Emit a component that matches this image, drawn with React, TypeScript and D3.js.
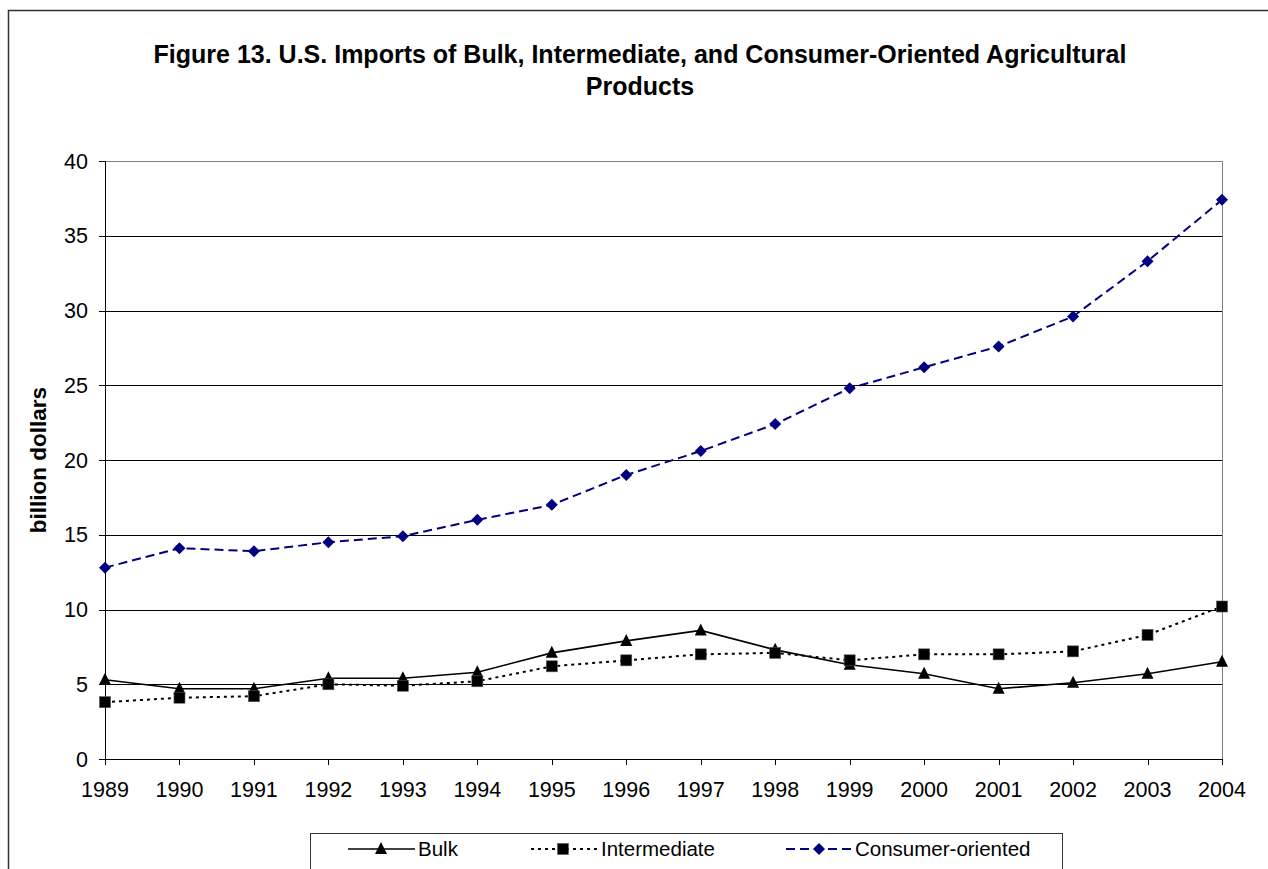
import React from "react";
import * as d3 from "d3";

const years = ["1989","1990","1991","1992","1993","1994","1995","1996","1997","1998","1999","2000","2001","2002","2003","2004"];
const bulk = [5.3,4.7,4.7,5.4,5.4,5.8,7.1,7.9,8.6,7.3,6.3,5.7,4.7,5.1,5.7,6.5];
const intermediate = [3.8,4.1,4.2,5.0,4.9,5.2,6.2,6.6,7.0,7.1,6.6,7.0,7.0,7.2,8.3,10.2];
const consumer = [12.8,14.1,13.9,14.5,14.9,16.0,17.0,19.0,20.6,22.4,24.8,26.2,27.6,29.6,33.3,37.4];
const yTicks = [0,5,10,15,20,25,30,35,40];
const seriesNames = ["Bulk","Intermediate","Consumer-oriented"];
const titleLines = ["Figure 13. U.S. Imports of Bulk, Intermediate, and Consumer-Oriented Agricultural","Products"];

const FONT = "Arial, 'Liberation Sans', Helvetica, sans-serif";
const W = 1268, H = 869;
const L = 105, R = 1222, T = 161, B = 759;

function Marker({ kind, x, y }: { kind: string; x: number; y: number }) {
  if (kind === "tri") {
    const s = 6;
    return <path d={`M${x},${y - s - 1}L${x + s},${y + s - 1}L${x - s},${y + s - 1}Z`} fill="#000" />;
  }
  if (kind === "sq") {
    return <rect x={x - 5.5} y={y - 5.5} width={11} height={11} fill="#000" stroke="#555" strokeWidth={0.6} />;
  }
  const s = 6;
  return <path d={`M${x},${y - s}L${x + s},${y}L${x},${y + s}L${x - s},${y}Z`} fill="#000080" />;
}

export default function App() {
  const x = d3.scalePoint<string>().domain(years).range([L, R]);
  const y = d3.scaleLinear().domain([0, 40]).range([B, T]);
  const line = d3.line<number>().x((_, i) => x(years[i]) as number).y((d) => y(d));

  const series = [
    { name: seriesNames[0], data: bulk, stroke: "#000", dash: undefined as string | undefined, width: 1.6, marker: "tri" },
    { name: seriesNames[1], data: intermediate, stroke: "#000", dash: "3,4", width: 2, marker: "sq" },
    { name: seriesNames[2], data: consumer, stroke: "#000080", dash: "9,5", width: 2, marker: "dia" },
  ];

  const legendItems = [
    { x0: 348, x1: 415, mx: 381, tx: 418 },
    { x0: 531, x1: 597, mx: 563, tx: 601 },
    { x0: 786, x1: 852, mx: 819, tx: 855 },
  ];
  const ly = 849;

  return (
    <svg width={W} height={H} style={{ position: "absolute", left: 0, top: 0, background: "#fff" }} fontFamily={FONT}>
      <rect x={0} y={0} width={W} height={H} fill="#fff" />
      <rect x={8.5} y={10.5} width={1300} height={900} fill="none" stroke="#333" strokeWidth={1.5} />
      {titleLines.map((t, i) => (
        <text key={i} x={640} y={63 + i * 32} textAnchor="middle" fontSize={25} fontWeight="bold" fill="#000">{t}</text>
      ))}

      {/* gridlines */}
      {yTicks.filter((t) => t > 0).map((t) => (
        <line key={t} x1={L} x2={R} y1={Math.round(y(t)) + 0.5} y2={Math.round(y(t)) + 0.5} stroke={t === 40 ? "#808080" : "#000"} strokeWidth={1} />
      ))}
      <line x1={R + 0.5} x2={R + 0.5} y1={T} y2={B} stroke="#808080" strokeWidth={1} />
      {/* axes */}
      <line x1={L + 0.5} x2={L + 0.5} y1={T} y2={B + 0.5} stroke="#000" strokeWidth={1} />
      <line x1={L} x2={R + 1} y1={B + 0.5} y2={B + 0.5} stroke="#000" strokeWidth={1} />
      {yTicks.map((t) => (
        <g key={t}>
          <line x1={L - 6} x2={L} y1={Math.round(y(t)) + 0.5} y2={Math.round(y(t)) + 0.5} stroke="#000" />
          <text x={88} y={y(t)} dy="0.36em" textAnchor="end" fontSize={21.5} fill="#000">{t}</text>
        </g>
      ))}
      {years.map((yr) => (
        <g key={yr}>
          <line x1={Math.round(x(yr) as number) + 0.5} x2={Math.round(x(yr) as number) + 0.5} y1={B} y2={B + 6} stroke="#000" />
          <text x={x(yr) as number} y={797} textAnchor="middle" fontSize={21.5} fill="#000">{yr}</text>
        </g>
      ))}
      <text transform={`translate(46,${(T + B) / 2}) rotate(-90)`} textAnchor="middle" fontSize={22.5} fontWeight="bold" fill="#000">billion dollars</text>

      {/* series */}
      {series.map((s) => (
        <g key={s.name}>
          <path d={line(s.data) || ""} fill="none" stroke={s.stroke} strokeWidth={s.width} strokeDasharray={s.dash} />
          {s.data.map((v, i) => (
            <Marker key={i} kind={s.marker} x={x(years[i]) as number} y={y(v)} />
          ))}
        </g>
      ))}

      {/* legend */}
      <rect x={310.5} y={833.5} width={752} height={80} fill="#fff" stroke="#333" strokeWidth={1} />
      {series.map((s, i) => {
        const it = legendItems[i];
        return (
          <g key={s.name}>
            <line x1={it.x0} x2={it.x1} y1={ly} y2={ly} stroke={s.stroke} strokeWidth={s.width} strokeDasharray={s.dash} />
            <Marker kind={s.marker} x={it.mx} y={ly} />
            <text x={it.tx} y={ly} dy="0.36em" fontSize={20.5} fill="#000">{s.name}</text>
          </g>
        );
      })}
    </svg>
  );
}
